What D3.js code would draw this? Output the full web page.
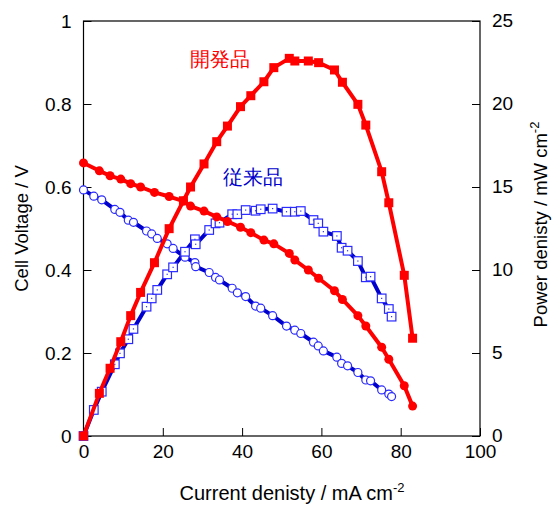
<!DOCTYPE html>
<html>
<head>
<meta charset="utf-8">
<script src="https://cdn.jsdelivr.net/npm/d3@7"></script>
<style>
	body { margin: 0; background: #fff; }
	svg { display: block; }
	text { font-family: 'Liberation Sans', Arial, sans-serif; }
</style>
</head>
<body>
<svg width="560" height="507"></svg>
<script>
// 開発品 (new product)
const redX = [0, 4.0, 6.7, 9.4, 11.9, 14.4, 17.9, 21.6, 25.2, 27.0, 30.4, 33.6, 36.3, 39.6, 42.2, 45.5, 48.0, 51.9, 53.3, 56.7, 59.3, 63.3, 65.3, 69.2, 71.2, 75.2, 77.0, 80.9, 83.0];
const redV = [0.658, 0.639, 0.627, 0.619, 0.608, 0.600, 0.587, 0.577, 0.566, 0.554, 0.542, 0.528, 0.517, 0.503, 0.490, 0.472, 0.463, 0.440, 0.424, 0.400, 0.380, 0.350, 0.329, 0.290, 0.265, 0.214, 0.185, 0.121, 0.072];
const redP = [0, 2.57, 4.08, 5.68, 7.25, 8.65, 10.44, 12.49, 14.17, 15.0, 16.39, 17.73, 18.67, 19.84, 20.50, 21.34, 22.19, 22.75, 22.59, 22.59, 22.49, 22.05, 21.31, 19.98, 18.73, 15.92, 14.05, 9.68, 5.89];

// 従来品 (conventional product)
const blueX = [0, 2.6, 4.6, 7.9, 9.2, 11.3, 12.6, 15.9, 17.2, 18.6, 21.1, 22.6, 25.6, 28.1, 28.3, 31.7, 33.3, 34.3, 37.5, 38.8, 40.9, 43.4, 44.7, 47.7, 51.2, 53.3, 54.8, 58.0, 59.2, 60.5, 63.9, 65.1, 66.6, 69.2, 71.2, 72.4, 75.2, 77.0, 77.7];
const blueV = [0.593, 0.578, 0.569, 0.546, 0.539, 0.520, 0.515, 0.494, 0.487, 0.476, 0.463, 0.452, 0.431, 0.418, 0.408, 0.394, 0.382, 0.376, 0.356, 0.345, 0.336, 0.313, 0.308, 0.290, 0.265, 0.255, 0.247, 0.226, 0.217, 0.205, 0.190, 0.175, 0.169, 0.153, 0.135, 0.133, 0.111, 0.101, 0.095];
const blueP = [0, 1.57, 2.67, 4.32, 4.98, 5.83, 6.45, 7.79, 8.29, 8.80, 9.74, 10.16, 11.10, 11.85, 11.55, 12.41, 12.81, 12.85, 13.36, 13.36, 13.61, 13.57, 13.66, 13.70, 13.51, 13.51, 13.55, 13.01, 12.81, 12.31, 12.05, 11.34, 11.16, 10.54, 9.56, 9.60, 8.29, 7.65, 7.19];

const xTicks = [0, 20, 40, 60, 80, 100];
const vTicks = [0, 0.2, 0.4, 0.6, 0.8, 1];
const pTicks = [0, 5, 10, 15, 20, 25];

const svg = d3.select('svg');
const plotLeft = 83.5, plotRight = 480, plotTop = 21, plotBottom = 436;

const x = d3.scaleLinear().domain([0, 100]).range([plotLeft, plotRight]);
const yV = d3.scaleLinear().domain([0, 1]).range([plotBottom, plotTop]);
const yP = d3.scaleLinear().domain([0, 25]).range([plotBottom, plotTop]);

const red = '#ff0000';
const blueLine = '#0000cc';
const blueMark = '#2a2aff';

// frame
svg.append('rect')
	.attr('x', plotLeft).attr('y', plotTop)
	.attr('width', plotRight - plotLeft).attr('height', plotBottom - plotTop)
	.attr('fill', 'none').attr('stroke', '#000').attr('stroke-width', 1.2);

const tickFont = 19;
const styleTicks = g => {
	g.select('.domain').remove();
	g.selectAll('text')
		.attr('font-size', tickFont)
		.attr('fill', '#000')
		.attr('font-family', 'Liberation Sans, Arial, sans-serif');
};

svg.append('g')
	.attr('transform', `translate(0,${plotBottom})`)
	.call(d3.axisBottom(x).tickValues(xTicks).tickSize(-8).tickPadding(9).tickFormat(d3.format('d')))
	.call(styleTicks);

svg.append('g')
	.attr('transform', `translate(${plotLeft},0)`)
	.call(d3.axisLeft(yV).tickValues(vTicks).tickSize(-8).tickPadding(12).tickFormat(d => d === 0 || d === 1 ? d : d3.format('.1f')(d)))
	.call(styleTicks);

svg.append('g')
	.attr('transform', `translate(${plotRight},0)`)
	.call(d3.axisRight(yP).tickValues(pTicks).tickSize(-8).tickPadding(12))
	.call(styleTicks)
	.call(g => g.selectAll('text').attr('dy', '0.3em'));

// axis titles
svg.append('text')
	.attr('x', 292).attr('y', 500)
	.attr('text-anchor', 'middle').attr('font-size', 20)
	.html('Current denisty / mA cm<tspan dy="-8" font-size="13">-2</tspan>');

svg.append('text')
	.attr('transform', `translate(28,${(plotTop + plotBottom) / 2}) rotate(-90)`)
	.attr('text-anchor', 'middle').attr('font-size', 18.5)
	.text('Cell Voltage / V');

svg.append('text')
	.attr('transform', `translate(547,${(plotTop + plotBottom) / 2 - 4}) rotate(-90)`)
	.attr('text-anchor', 'middle').attr('font-size', 18.5)
	.html('Power denisty / mW cm<tspan dy="-8" font-size="13">-2</tspan>');

const series = (xs, ys) => xs.map((d, i) => [d, ys[i]]);

const drawLine = (data, yScale, colour) => {
	svg.append('path')
		.datum(data)
		.attr('fill', 'none')
		.attr('stroke', colour)
		.attr('stroke-width', 4)
		.attr('stroke-linejoin', 'round')
		.attr('d', d3.line().x(d => x(d[0])).y(d => yScale(d[1])));
};

// conventional (blue) first
const bV = series(blueX, blueV);
const bP = series(blueX, blueP);
drawLine(bV, yV, blueLine);
drawLine(bP, yP, blueLine);

svg.append('g').selectAll('circle')
	.data(bV).enter().append('circle')
	.attr('cx', d => x(d[0])).attr('cy', d => yV(d[1]))
	.attr('r', 4)
	.attr('fill', '#fff').attr('stroke', blueMark).attr('stroke-width', 1.2);

const sq = svg.append('g').selectAll('g')
	.data(bP).enter().append('g')
	.attr('transform', d => `translate(${x(d[0])},${yP(d[1])})`);
sq.append('rect')
	.attr('x', -4.3).attr('y', -4.3).attr('width', 8.6).attr('height', 8.6)
	.attr('fill', '#fff').attr('stroke', blueMark).attr('stroke-width', 1.2);
sq.append('rect')
	.attr('x', -0.6).attr('y', -0.6).attr('width', 1.2).attr('height', 1.2)
	.attr('fill', blueMark);

// new product (red)
const rV = series(redX, redV);
const rP = series(redX, redP);
drawLine(rV, yV, red);
drawLine(rP, yP, red);

svg.append('g').selectAll('circle')
	.data(rV).enter().append('circle')
	.attr('cx', d => x(d[0])).attr('cy', d => yV(d[1]))
	.attr('r', 4.5)
	.attr('fill', red);

svg.append('g').selectAll('rect')
	.data(rP).enter().append('rect')
	.attr('x', d => x(d[0]) - 4.5).attr('y', d => yP(d[1]) - 4.5)
	.attr('width', 9).attr('height', 9)
	.attr('fill', red);

// labels
svg.append('text')
	.attr('x', 220).attr('y', 66)
	.attr('text-anchor', 'middle')
	.attr('font-family', 'Noto Sans CJK JP').attr('font-size', 20)
	.attr('fill', red)
	.text('開発品');

svg.append('text')
	.attr('x', 253).attr('y', 184)
	.attr('text-anchor', 'middle')
	.attr('font-family', 'Noto Sans CJK JP').attr('font-size', 20)
	.attr('fill', blueLine)
	.text('従来品');
</script>
</body>
</html>
